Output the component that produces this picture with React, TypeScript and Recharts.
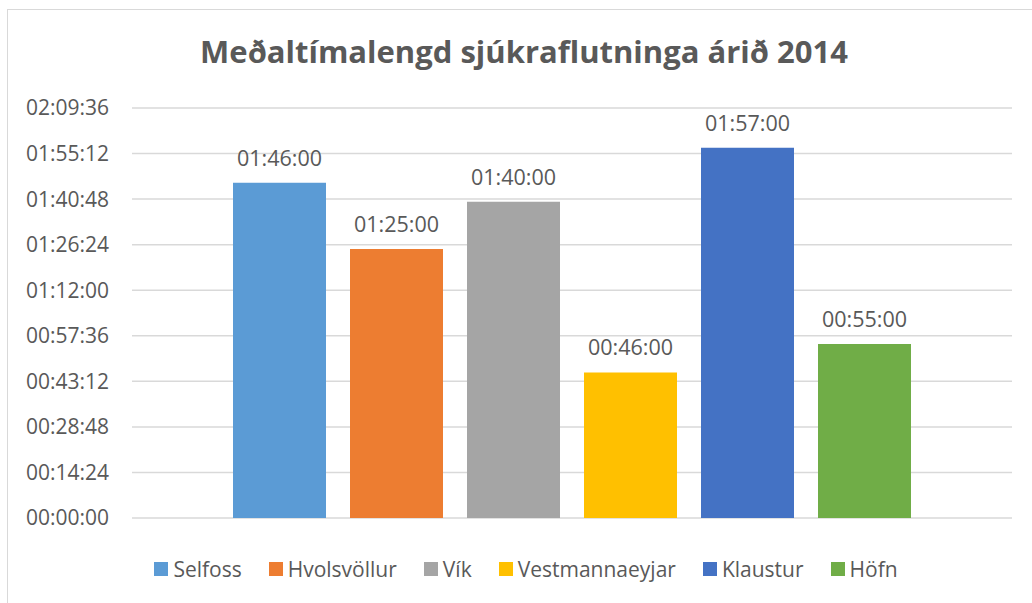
import React from "react";
import { BarChart, Bar, XAxis, YAxis, CartesianGrid, LabelList } from "recharts";

// Series (one bar each) and their values in seconds
const STATIONS = ["Selfoss", "Hvolsvöllur", "Vík", "Vestmannaeyjar", "Klaustur", "Höfn"];
const DURATIONS = [6360, 5100, 6000, 2760, 7020, 3300]; // 01:46, 01:25, 01:40, 00:46, 01:57, 00:55
const COLORS = ["#5B9BD5", "#ED7D31", "#A5A5A5", "#FFC000", "#4472C4", "#70AD47"];
const Y_TICKS = [0, 864, 1728, 2592, 3456, 4320, 5184, 6048, 6912, 7776];

const TITLE = "Meðaltímalengd sjúkraflutninga árið 2014";
const FONT = "'Open Sans', sans-serif";
const TEXT = "#595959";

const row: Record<string, number | string> = { name: "2014" };
STATIONS.forEach((s, i) => (row[s] = DURATIONS[i]));
const data = [row];

const pad = (n: number) => String(n).padStart(2, "0");
const fmt = (v: any) => {
  const t = Number(v);
  const h = Math.floor(t / 3600);
  const m = Math.floor((t % 3600) / 60);
  const s = t % 60;
  return `${pad(h)}:${pad(m)}:${pad(s)}`;
};

export default function App() {
  return (
    <div style={{ position: "absolute", left: 0, top: 0, width: 1032, height: 603, background: "#fff", fontFamily: FONT }}>
      <div style={{ position: "absolute", left: 7, top: 9, width: 1030, height: 600, border: "1px solid #d9d9d9", boxSizing: "border-box" }} />
      <div style={{ position: "absolute", left: 7, top: 30, width: 1034, textAlign: "center", fontSize: 31, fontWeight: 700, color: TEXT }}>
        {TITLE}
      </div>
      <div style={{ position: "absolute", left: 0, top: 0 }}>
        <BarChart width={1032} height={603} data={data} margin={{ top: 108, right: 20, bottom: 85, left: 0 }}
          barCategoryGap={101} barGap={24}>
          <CartesianGrid vertical={false} stroke="#d9d9d9" strokeWidth={1.5} />
          <XAxis dataKey="name" hide />
          <YAxis width={132} domain={[0, 7776]} ticks={Y_TICKS} tickFormatter={fmt} axisLine={false} tickLine={false}
            tickMargin={17} tick={{ fill: TEXT, fontSize: 21, fontFamily: FONT }} interval={0} />
          {STATIONS.map((s, i) => (
            <Bar key={s} dataKey={s} fill={COLORS[i]} barSize={93} isAnimationActive={false}>
              <LabelList dataKey={s} position="top" offset={17} formatter={fmt}
                style={{ fill: TEXT, fontSize: 21.5, fontFamily: FONT }} />
            </Bar>
          ))}
        </BarChart>
      </div>
      <div style={{ position: "absolute", left: 10, top: 555, width: 1032, display: "flex", justifyContent: "center", gap: 27, fontSize: 21, color: TEXT }}>
        {STATIONS.map((s, i) => (
          <div key={s} style={{ display: "flex", alignItems: "center", gap: 5 }}>
            <span style={{ display: "inline-block", width: 14, height: 14, background: COLORS[i] }} />
            <span>{s}</span>
          </div>
        ))}
      </div>
    </div>
  );
}
